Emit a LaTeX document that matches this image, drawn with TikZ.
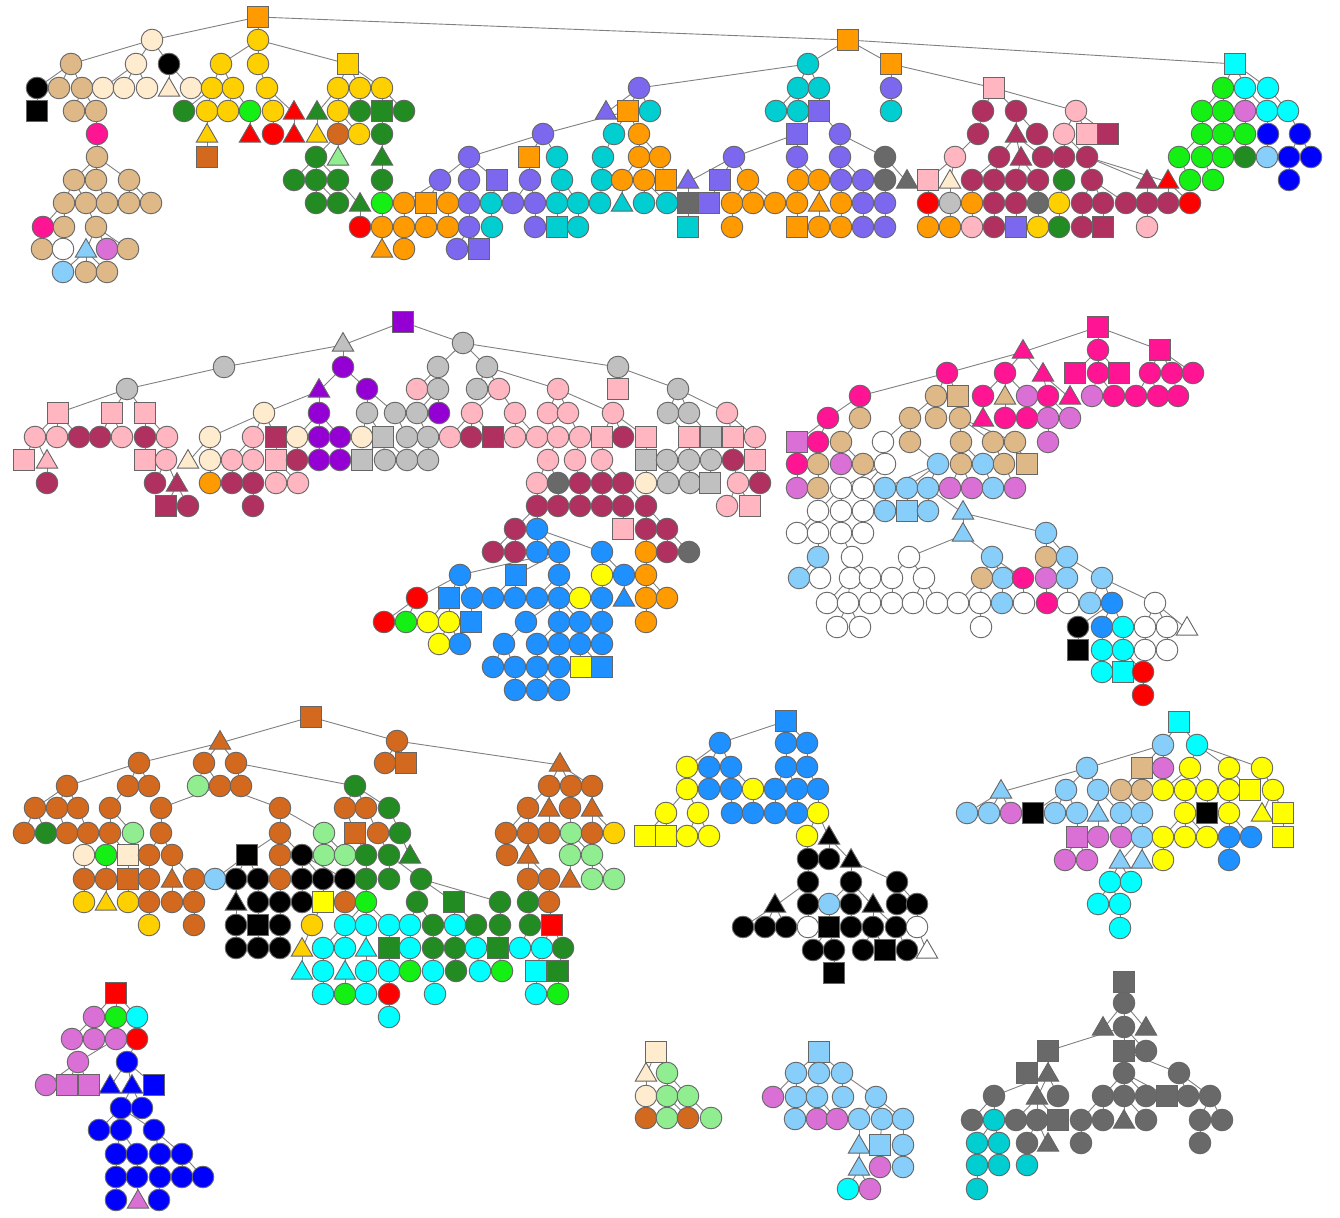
\documentclass[tikz,border=0pt]{standalone}
\usepackage{tikz}
\usetikzlibrary{shapes.geometric,backgrounds}
\definecolor{OR}{RGB}{255,155,0}
\definecolor{GO}{RGB}{255,208,0}
\definecolor{YE}{RGB}{255,255,0}
\definecolor{TA}{RGB}{222,184,135}
\definecolor{WH}{RGB}{255,235,205}
\definecolor{BK}{RGB}{0,0,0}
\definecolor{DG}{RGB}{34,139,34}
\definecolor{LI}{RGB}{20,240,20}
\definecolor{RD}{RGB}{255,0,0}
\definecolor{CH}{RGB}{210,105,30}
\definecolor{MS}{RGB}{123,104,238}
\definecolor{DT}{RGB}{0,206,209}
\definecolor{CY}{RGB}{0,255,255}
\definecolor{PK}{RGB}{255,182,193}
\definecolor{MA}{RGB}{176,48,96}
\definecolor{SI}{RGB}{192,192,192}
\definecolor{DI}{RGB}{105,105,105}
\definecolor{VI}{RGB}{148,0,211}
\definecolor{DP}{RGB}{255,20,147}
\definecolor{LS}{RGB}{135,206,250}
\definecolor{OC}{RGB}{218,112,214}
\definecolor{DO}{RGB}{30,144,255}
\definecolor{BL}{RGB}{0,0,255}
\definecolor{LG}{RGB}{144,238,144}
\definecolor{WT}{RGB}{255,255,255}
\tikzset{
  nd/.style={draw=black!60, line width=0.45pt, inner sep=0pt, outer sep=0pt},
  ci/.style={nd, circle, minimum size=10.8pt},
  sq/.style={nd, rectangle, minimum size=10.6pt},
  tr/.style={nd, regular polygon, regular polygon sides=3, minimum size=12.4pt, yshift=-1pt},
  link/.style={draw=black!50, line width=0.45pt}
}
\def\edgelist{}
\newcommand\treerow[3]{%
  \foreach \x/\s/\c/\p in {#3}{%
    \edef\tmpnode{\noexpand\node[\s,fill=\c] (n\x y#1) at (\x,#1) {};}\tmpnode
    \ifnum\p>0
      \xdef\edgelist{\unexpanded\expandafter{\edgelist}\noexpand\draw[link] (n\p y#2) -- (n\x y#1);}%
    \fi
  }}
\begin{document}
\begin{tikzpicture}[x=0.5pt, y=-0.5pt]
  \useasboundingbox (0,0) rectangle (1340,1218);

  \treerow{17}{0}{258/sq/OR/0}
  \treerow{40}{17}{152/ci/WH/258, 258/ci/GO/258, 848/sq/OR/258}
  \treerow{64}{40}{71/ci/TA/152, 136/ci/WH/152, 169/ci/BK/152, 221/ci/GO/258, 258/ci/GO/258, 348/sq/GO/258, 808/ci/DT/848, 891/sq/OR/848, 1235/sq/CY/848}
  \treerow{88}{64}{37/ci/BK/71, 59/ci/TA/71, 82/ci/TA/71, 103/ci/WH/136, 124/ci/WH/136, 147/ci/WH/136, 169/tr/WH/169, 191/ci/WH/169, 212/ci/GO/221, 233/ci/GO/221, 267/ci/GO/258, 338/ci/GO/348, 360/ci/GO/348, 382/ci/GO/348, 639/ci/MS/808, 798/ci/DT/808, 819/ci/DT/808, 891/ci/MS/891, 994/sq/PK/891, 1223/ci/LI/1235, 1245/ci/CY/1235, 1268/ci/CY/1235}
  \treerow{111}{88}{37/sq/BK/37, 74/ci/TA/82, 96/ci/TA/82, 184/ci/DG/212, 207/ci/GO/212, 228/ci/GO/233, 250/ci/LI/233, 273/ci/GO/267, 294/tr/RD/267, 317/tr/DG/338, 338/ci/GO/338, 360/ci/DG/360, 382/sq/DG/382, 404/ci/DG/382, 606/tr/MS/639, 628/sq/OR/639, 650/ci/DT/639, 776/ci/DT/798, 798/ci/DT/798, 819/sq/MS/819, 891/ci/DT/891, 983/ci/MA/994, 1016/ci/MA/994, 1076/ci/PK/994, 1202/ci/LI/1223, 1223/ci/LI/1223, 1245/ci/OC/1245, 1267/ci/CY/1245, 1288/ci/CY/1268}
  \treerow{134}{111}{97/ci/DP/96, 207/tr/GO/207, 250/tr/RD/250, 273/ci/RD/273, 294/tr/RD/294, 317/tr/GO/317, 338/ci/CH/338, 359/ci/GO/338, 382/ci/DG/382, 543/ci/MS/628, 614/ci/DT/628, 639/ci/OR/628, 797/sq/MS/819, 840/ci/MS/819, 978/ci/MA/983, 1016/tr/MA/1016, 1037/ci/MA/1016, 1064/ci/PK/1076, 1087/sq/PK/1076, 1108/sq/MA/1076, 1202/ci/LI/1202, 1223/ci/LI/1223, 1245/ci/LI/1245, 1268/ci/BL/1267, 1300/ci/BL/1288}
  \treerow{157}{134}{97/ci/TA/97, 207/sq/CH/207, 316/ci/DG/338, 338/tr/LG/338, 382/tr/DG/382, 469/ci/MS/543, 529/sq/OR/543, 557/ci/DT/543, 603/ci/DT/614, 639/ci/OR/639, 660/ci/OR/639, 734/ci/MS/797, 797/ci/MS/797, 840/ci/MS/840, 885/ci/DI/840, 955/ci/PK/978, 999/ci/MA/1016, 1021/tr/MA/1016, 1043/ci/MA/1016, 1064/ci/MA/1064, 1087/ci/MA/1064, 1179/ci/LI/1202, 1202/ci/LI/1202, 1223/ci/LI/1223, 1245/ci/DG/1245, 1267/ci/LS/1268, 1289/ci/BL/1300, 1311/ci/BL/1300}
  \treerow{180}{157}{74/ci/TA/97, 96/ci/TA/97, 129/ci/TA/97, 294/ci/DG/316, 316/ci/DG/316, 338/ci/DG/316, 382/ci/DG/382, 440/ci/MS/469, 469/ci/MS/469, 497/sq/MS/469, 530/ci/MS/529, 562/ci/DT/557, 602/ci/DT/603, 622/ci/OR/639, 644/ci/OR/639, 666/sq/OR/660, 688/tr/MS/734, 720/sq/MS/734, 748/ci/OR/734, 798/ci/OR/797, 819/ci/OR/797, 841/ci/MS/840, 863/ci/MS/840, 885/ci/DI/885, 907/tr/DI/885, 928/sq/PK/955, 950/tr/WH/955, 972/ci/MA/999, 994/ci/MA/999, 1016/ci/MA/1021, 1038/ci/MA/1021, 1064/ci/DG/1064, 1092/ci/MA/1087, 1147/tr/MA/1087, 1168/tr/RD/1087, 1190/ci/LI/1179, 1213/ci/LI/1202, 1289/ci/BL/1289}
  \treerow{203}{180}{64/ci/TA/74, 86/ci/TA/74, 107/ci/TA/96, 129/ci/TA/129, 151/ci/TA/129, 316/ci/DG/316, 338/ci/DG/316, 360/tr/DG/338, 382/ci/LI/382, 404/ci/OR/440, 426/sq/OR/440, 448/ci/OR/440, 469/ci/MS/469, 491/ci/DT/497, 513/ci/MS/530, 535/ci/MS/530, 557/ci/DT/562, 578/ci/DT/562, 600/ci/DT/602, 622/tr/DT/622, 644/ci/DT/644, 667/ci/DT/644, 688/sq/DI/688, 709/sq/MS/720, 732/ci/OR/748, 753/ci/OR/748, 775/ci/OR/748, 797/ci/OR/798, 819/tr/OR/819, 841/ci/OR/841, 863/ci/MS/863, 885/ci/MS/885, 928/ci/RD/928, 950/ci/SI/950, 972/ci/OR/972, 994/ci/MA/994, 1016/ci/MA/1016, 1038/ci/DI/1038, 1059/ci/GO/1064, 1082/ci/MA/1092, 1103/ci/MA/1092, 1126/ci/MA/1092, 1147/ci/MA/1147, 1168/ci/MA/1168, 1190/ci/RD/1168}
  \treerow{227}{203}{43/ci/DP/64, 64/ci/TA/64, 96/ci/TA/86, 360/ci/RD/360, 382/ci/OR/382, 404/ci/OR/404, 426/ci/OR/426, 448/ci/OR/448, 469/ci/MS/469, 492/ci/DT/491, 535/ci/MS/535, 557/sq/DT/557, 578/ci/DT/578, 688/sq/DT/688, 732/ci/OR/732, 797/sq/OR/797, 819/ci/OR/819, 841/ci/OR/841, 863/ci/MS/863, 885/ci/MS/885, 928/ci/OR/928, 950/ci/OR/950, 972/ci/PK/972, 994/ci/MA/994, 1016/sq/MS/1016, 1038/ci/GO/1038, 1059/ci/DG/1059, 1082/ci/MA/1082, 1103/sq/MA/1103, 1147/ci/PK/1147}
  \treerow{249}{227}{42/ci/TA/43, 63/ci/WT/64, 86/tr/LS/96, 107/ci/OC/96, 128/ci/TA/96, 382/tr/OR/382, 404/ci/OR/404, 457/ci/MS/469, 479/sq/MS/469}
  \treerow{272}{249}{63/ci/LS/86, 86/ci/TA/86, 107/ci/TA/86}

  \treerow{322}{0}{403/sq/VI/0}
  \treerow{343}{322}{343/tr/SI/403, 463/ci/SI/403}
  \treerow{367}{343}{224/ci/SI/343, 343/ci/VI/343, 438/ci/SI/463, 487/ci/SI/463, 618/ci/SI/463}
  \treerow{389}{367}{127/ci/SI/224, 319/tr/VI/343, 367/ci/VI/343, 417/ci/PK/438, 438/ci/SI/438, 477/ci/SI/487, 499/ci/PK/487, 558/ci/PK/487, 618/sq/PK/618, 678/ci/SI/618}
  \treerow{413}{389}{58/sq/PK/127, 112/sq/PK/127, 145/sq/PK/127, 264/ci/WH/319, 319/ci/VI/319, 367/ci/SI/367, 395/ci/SI/367, 417/ci/SI/438, 439/ci/VI/438, 472/ci/PK/499, 515/ci/PK/499, 548/ci/PK/558, 568/ci/PK/558, 613/ci/PK/558, 668/ci/SI/678, 689/ci/SI/678, 727/ci/PK/678}
  \treerow{437}{413}{35/ci/PK/58, 57/ci/PK/58, 79/ci/MA/58, 100/ci/MA/112, 122/ci/PK/112, 145/ci/MA/145, 167/ci/PK/145, 210/ci/WH/264, 253/ci/PK/264, 276/sq/MA/264, 297/ci/WH/319, 319/ci/VI/319, 340/ci/VI/319, 362/ci/WH/367, 383/sq/SI/367, 407/ci/SI/395, 428/ci/SI/417, 450/ci/PK/472, 471/ci/MA/472, 493/sq/MA/472, 515/ci/PK/515, 537/ci/PK/515, 558/ci/PK/548, 580/ci/PK/568, 602/sq/PK/613, 623/ci/MA/613, 646/sq/PK/613, 689/sq/PK/668, 711/sq/SI/689, 733/sq/PK/727, 755/ci/PK/727}
  \treerow{460}{437}{24/sq/PK/35, 47/tr/PK/35, 145/sq/PK/145, 166/ci/PK/167, 188/tr/WH/210, 210/ci/WH/210, 232/ci/PK/253, 253/ci/PK/253, 276/sq/PK/276, 297/ci/MA/297, 319/ci/VI/319, 340/ci/VI/340, 362/sq/SI/383, 385/ci/SI/383, 407/ci/SI/383, 428/ci/SI/428, 548/ci/PK/558, 575/ci/PK/580, 602/ci/PK/602, 646/sq/SI/646, 667/ci/SI/689, 689/ci/SI/689, 711/ci/SI/711, 733/ci/MA/733, 755/sq/PK/755}
  \treerow{483}{460}{47/ci/MA/47, 155/ci/MA/166, 177/tr/MA/166, 210/ci/OR/210, 232/ci/MA/232, 253/ci/MA/253, 276/ci/PK/276, 298/ci/PK/276, 537/ci/PK/548, 558/ci/DI/548, 580/ci/MA/575, 602/ci/MA/602, 623/ci/MA/602, 646/ci/WH/646, 668/ci/SI/667, 690/ci/SI/689, 710/sq/SI/711, 738/ci/PK/733, 760/ci/MA/755}
  \treerow{506}{483}{166/sq/MA/177, 188/ci/MA/177, 253/ci/MA/253, 537/ci/MA/537, 558/ci/MA/558, 580/ci/MA/580, 602/ci/MA/602, 623/ci/MA/623, 646/ci/MA/623, 727/ci/PK/738, 750/sq/PK/738}
  \treerow{529}{506}{515/ci/MA/537, 537/ci/DO/537, 623/sq/PK/623, 646/ci/MA/646, 667/ci/MA/646}
  \treerow{552}{529}{493/ci/MA/515, 515/ci/MA/515, 537/ci/DO/537, 559/ci/DO/537, 602/ci/DO/537, 646/ci/OR/646, 667/ci/MA/667, 689/ci/DI/667}
  \treerow{575}{552}{460/ci/DO/559, 516/sq/DO/559, 559/ci/DO/559, 602/ci/YE/602, 624/ci/DO/602, 646/ci/OR/646}
  \treerow{598}{575}{417/ci/RD/460, 449/sq/DO/460, 472/ci/DO/460, 493/ci/DO/516, 515/ci/DO/516, 537/ci/DO/559, 559/ci/DO/559, 580/ci/YE/559, 602/ci/DO/602, 624/tr/DO/624, 646/ci/OR/646, 667/ci/OR/646}
  \treerow{622}{598}{384/ci/RD/417, 406/ci/LI/417, 428/ci/YE/449, 449/ci/YE/449, 471/sq/DO/472, 526/ci/DO/559, 559/ci/DO/559, 580/ci/DO/559, 602/ci/DO/602, 646/ci/OR/646}
  \treerow{644}{622}{439/ci/YE/449, 460/ci/DO/449, 504/ci/DO/526, 537/ci/DO/559, 559/ci/DO/559, 580/ci/DO/580, 602/ci/DO/602}
  \treerow{667}{644}{493/ci/DO/504, 515/ci/DO/504, 537/ci/DO/537, 559/ci/DO/559, 581/sq/YE/580, 602/sq/DO/580}
  \treerow{690}{667}{515/ci/DO/515, 537/ci/DO/537, 559/ci/DO/537}

  \treerow{327}{0}{1098/sq/DP/0}
  \treerow{350}{327}{1023/tr/DP/1098, 1098/ci/DP/1098, 1160/sq/DP/1098}
  \treerow{373}{350}{947/ci/DP/1023, 1005/ci/DP/1023, 1043/tr/DP/1023, 1075/sq/DP/1098, 1098/ci/DP/1098, 1119/sq/DP/1098, 1150/ci/DP/1160, 1172/ci/DP/1160, 1193/ci/DP/1160}
  \treerow{396}{373}{860/ci/DP/947, 936/ci/TA/947, 958/sq/TA/947, 983/ci/DP/1005, 1005/tr/TA/1005, 1027/ci/OC/1005, 1048/ci/DP/1043, 1070/tr/DP/1043, 1092/ci/OC/1098, 1114/ci/DP/1098, 1136/ci/DP/1150, 1158/ci/DP/1150, 1178/ci/DP/1172}
  \treerow{418}{396}{828/ci/DP/860, 860/ci/TA/860, 910/ci/TA/936, 936/ci/TA/936, 960/ci/TA/958, 983/tr/DP/983, 1005/ci/DP/1005, 1027/ci/DP/1027, 1048/ci/OC/1048, 1070/ci/OC/1048}
  \treerow{442}{418}{797/sq/OC/828, 818/ci/DP/828, 841/ci/TA/860, 883/ci/WT/910, 910/ci/TA/910, 961/ci/TA/960, 993/ci/TA/960, 1015/ci/TA/960, 1048/ci/OC/1048}
  \treerow{464}{442}{797/ci/DP/797, 818/ci/TA/818, 841/ci/OC/841, 863/ci/TA/841, 885/ci/WT/883, 938/ci/LS/910, 961/ci/TA/961, 983/ci/LS/961, 1004/ci/TA/993, 1027/sq/TA/1015}
  \treerow{488}{464}{797/ci/OC/797, 818/ci/TA/818, 841/ci/WT/885, 863/ci/WT/885, 885/ci/LS/938, 907/ci/LS/938, 928/ci/LS/938, 950/ci/OC/961, 972/ci/OC/961, 993/ci/LS/983, 1015/ci/OC/1004}
  \treerow{511}{488}{818/ci/WT/841, 841/ci/WT/841, 863/ci/WT/863, 885/ci/LS/885, 907/sq/LS/907, 928/ci/LS/928, 963/tr/LS/928}
  \treerow{533}{511}{797/ci/WT/818, 818/ci/WT/818, 841/ci/WT/841, 863/ci/WT/863, 963/tr/LS/963, 1046/ci/LS/963}
  \treerow{557}{533}{818/ci/LS/818, 852/ci/WT/841, 909/ci/WT/963, 992/ci/LS/963, 1046/ci/TA/1046, 1067/ci/LS/1046}
  \treerow{578}{557}{799/ci/LS/818, 820/ci/WT/818, 850/ci/WT/852, 870/ci/WT/852, 892/ci/WT/909, 924/ci/WT/909, 982/ci/TA/992, 1003/ci/LS/992, 1023/ci/DP/992, 1046/ci/OC/1046, 1067/ci/LS/1067, 1102/ci/LS/1067}
  \treerow{603}{578}{827/ci/WT/850, 848/ci/WT/850, 870/ci/WT/870, 892/ci/WT/892, 913/ci/WT/924, 937/ci/WT/924, 958/ci/WT/982, 980/ci/WT/982, 1002/ci/LS/1003, 1024/ci/WT/1023, 1047/ci/DP/1046, 1068/ci/WT/1067, 1090/ci/LS/1102, 1112/ci/DO/1102, 1155/ci/WT/1102}
  \treerow{627}{603}{837/ci/WT/848, 860/ci/WT/848, 981/ci/WT/980, 1078/ci/BK/1112, 1102/ci/DO/1112, 1123/ci/CY/1112, 1145/ci/WT/1155, 1167/ci/WT/1155, 1187/tr/WT/1155}
  \treerow{650}{627}{1078/sq/BK/1078, 1102/ci/CY/1102, 1123/ci/CY/1123, 1145/ci/WT/1145, 1167/ci/WT/1167}
  \treerow{672}{650}{1102/ci/CY/1102, 1123/sq/CY/1123, 1143/ci/RD/1123}
  \treerow{695}{672}{1143/ci/RD/1143}

  \treerow{717}{0}{311/sq/CH/0}
  \treerow{741}{717}{220/tr/CH/311, 397/ci/CH/311}
  \treerow{763}{741}{139/ci/CH/220, 204/ci/CH/220, 236/ci/CH/220, 385/ci/CH/397, 406/sq/CH/397, 560/tr/CH/397}
  \treerow{786}{763}{67/ci/CH/139, 128/ci/CH/139, 149/ci/CH/139, 198/ci/LG/204, 220/ci/CH/204, 241/ci/CH/236, 355/ci/DG/236, 549/ci/CH/560, 571/ci/CH/560, 592/ci/CH/560}
  \treerow{808}{786}{35/ci/CH/67, 57/ci/CH/67, 78/ci/CH/67, 110/ci/CH/128, 161/ci/CH/220, 280/ci/CH/220, 345/ci/CH/355, 366/ci/CH/355, 389/ci/DG/355, 528/ci/CH/549, 549/tr/CH/549, 570/ci/CH/571, 592/tr/CH/592}
  \treerow{833}{808}{24/ci/CH/35, 46/ci/DG/35, 67/ci/CH/57, 88/ci/CH/78, 110/ci/CH/110, 133/ci/LG/110, 161/ci/CH/161, 280/ci/CH/280, 324/ci/LG/280, 355/sq/CH/345, 378/ci/CH/366, 400/ci/DG/389, 506/ci/CH/528, 528/ci/CH/528, 549/ci/CH/549, 571/ci/LG/570, 592/ci/CH/592, 614/ci/GO/592}
  \treerow{855}{833}{84/ci/WH/88, 106/ci/LI/110, 128/sq/WH/110, 149/ci/CH/161, 172/ci/CH/161, 247/sq/BK/280, 280/ci/CH/280, 302/ci/BK/280, 324/ci/LG/324, 345/ci/LG/324, 366/ci/DG/355, 389/ci/DG/378, 410/tr/DG/400, 507/ci/CH/506, 528/tr/CH/528, 570/ci/LG/571, 592/ci/LG/571}
  \treerow{879}{855}{84/ci/CH/84, 106/ci/CH/106, 128/sq/CH/128, 149/ci/CH/149, 172/tr/CH/172, 194/ci/CH/172, 215/ci/LS/247, 236/ci/BK/247, 258/ci/BK/247, 280/ci/CH/280, 302/ci/BK/302, 323/ci/BK/302, 345/ci/BK/302, 366/ci/DG/366, 389/ci/DG/389, 421/ci/DG/389, 528/ci/CH/528, 549/ci/CH/528, 570/tr/CH/570, 592/ci/LG/592, 614/ci/LG/592}
  \treerow{902}{879}{84/ci/GO/84, 106/tr/GO/106, 128/ci/GO/128, 149/ci/CH/149, 172/ci/CH/172, 194/ci/CH/194, 236/tr/BK/236, 258/ci/BK/258, 280/ci/BK/280, 302/ci/BK/302, 323/sq/YE/323, 345/ci/CH/345, 366/ci/LI/366, 417/ci/DG/421, 454/sq/DG/421, 500/ci/DG/421, 528/ci/DG/528, 549/ci/CH/549}
  \treerow{925}{902}{149/ci/GO/149, 194/ci/CH/194, 236/ci/BK/236, 258/sq/BK/258, 280/ci/BK/280, 312/ci/GO/323, 345/ci/CY/366, 366/ci/CY/366, 389/ci/CY/366, 410/ci/CY/417, 433/ci/DG/417, 455/ci/CY/454, 476/ci/DG/454, 500/ci/DG/500, 530/ci/DG/528, 552/sq/RD/549}
  \treerow{948}{925}{236/ci/BK/236, 258/ci/BK/258, 280/ci/BK/280, 302/tr/GO/312, 323/ci/CY/345, 345/ci/CY/345, 366/tr/CY/366, 389/sq/DG/389, 410/ci/CY/410, 433/ci/DG/433, 455/ci/DG/455, 476/ci/CY/476, 498/sq/DG/500, 520/ci/CY/530, 542/ci/CY/552, 563/ci/DG/552}
  \treerow{971}{948}{302/tr/CY/302, 323/ci/CY/323, 345/tr/CY/345, 366/ci/CY/366, 389/ci/CY/389, 410/ci/LI/410, 433/ci/CY/433, 456/ci/DG/455, 480/ci/CY/476, 502/ci/LI/498, 536/sq/CY/542, 558/sq/DG/563}
  \treerow{994}{971}{323/ci/CY/323, 345/ci/LI/345, 366/ci/CY/366, 389/ci/RD/389, 435/ci/CY/433, 536/ci/CY/536, 558/ci/LI/558}
  \treerow{1017}{994}{389/ci/CY/389}

  \treerow{721}{0}{786/sq/DO/0}
  \treerow{743}{721}{720/ci/DO/786, 786/ci/DO/786, 807/ci/DO/786}
  \treerow{767}{743}{687/ci/YE/720, 709/ci/DO/720, 731/ci/DO/720, 786/ci/DO/786, 807/ci/DO/807}
  \treerow{789}{767}{687/ci/YE/687, 709/ci/DO/709, 731/ci/DO/731, 753/ci/YE/731, 775/ci/DO/786, 797/ci/DO/786, 818/ci/DO/807}
  \treerow{813}{789}{666/ci/YE/687, 698/ci/YE/687, 732/ci/DO/731, 753/ci/DO/753, 775/ci/DO/775, 797/ci/DO/797, 818/ci/YE/818}
  \treerow{836}{813}{645/sq/YE/666, 666/sq/YE/666, 687/ci/YE/698, 709/ci/YE/698, 807/ci/YE/818, 829/tr/BK/818}
  \treerow{859}{836}{808/ci/BK/807, 829/ci/BK/829, 851/tr/BK/829}
  \treerow{882}{859}{808/ci/BK/808, 851/ci/BK/851, 897/ci/BK/851}
  \treerow{904}{882}{775/tr/BK/808, 808/ci/BK/808, 829/ci/LS/851, 851/ci/BK/851, 873/tr/BK/851, 897/ci/BK/897, 917/ci/BK/897}
  \treerow{927}{904}{743/ci/BK/775, 765/ci/BK/775, 786/ci/BK/775, 808/ci/WT/808, 829/sq/BK/829, 851/ci/BK/851, 873/ci/BK/873, 896/ci/BK/873, 917/ci/WT/917}
  \treerow{950}{927}{813/ci/BK/829, 834/ci/BK/829, 863/ci/BK/873, 885/sq/BK/873, 907/ci/BK/896, 927/tr/WT/917}
  \treerow{973}{950}{834/sq/BK/834}

  \treerow{722}{0}{1179/sq/CY/0}
  \treerow{745}{722}{1163/ci/LS/1179, 1197/ci/CY/1179}
  \treerow{768}{745}{1087/ci/LS/1163, 1142/sq/TA/1163, 1163/ci/OC/1163, 1190/ci/YE/1197, 1229/ci/YE/1197, 1262/ci/YE/1197}
  \treerow{790}{768}{1001/tr/LS/1087, 1066/ci/LS/1087, 1098/ci/LS/1087, 1121/ci/TA/1142, 1142/ci/TA/1142, 1163/ci/YE/1190, 1185/ci/YE/1190, 1207/ci/YE/1190, 1229/ci/YE/1229, 1250/sq/YE/1229, 1273/ci/YE/1262}
  \treerow{813}{790}{967/ci/LS/1001, 989/ci/LS/1001, 1011/ci/OC/1001, 1033/sq/BK/1066, 1055/ci/LS/1066, 1077/ci/LS/1066, 1098/tr/LS/1098, 1121/ci/LS/1098, 1142/ci/LS/1121, 1185/ci/YE/1185, 1207/sq/BK/1207, 1229/ci/YE/1229, 1262/tr/YE/1273, 1283/sq/YE/1273}
  \treerow{837}{813}{1077/sq/OC/1077, 1098/ci/OC/1098, 1121/ci/OC/1121, 1142/ci/LS/1142, 1163/ci/YE/1185, 1185/ci/YE/1185, 1207/ci/YE/1185, 1229/ci/DO/1229, 1251/ci/DO/1229, 1283/sq/YE/1283}
  \treerow{860}{837}{1065/ci/OC/1077, 1087/ci/OC/1077, 1120/tr/LS/1142, 1142/tr/LS/1142, 1163/ci/YE/1163, 1229/ci/DO/1229}
  \treerow{882}{860}{1110/ci/CY/1120, 1131/ci/CY/1120}
  \treerow{904}{882}{1098/ci/CY/1110, 1120/ci/CY/1110}
  \treerow{928}{904}{1120/ci/CY/1120}

  \treerow{993}{0}{116/sq/RD/0}
  \treerow{1017}{993}{94/ci/OC/116, 116/ci/LI/116, 137/ci/CY/116}
  \treerow{1039}{1017}{72/ci/OC/94, 94/ci/OC/94, 116/ci/OC/116, 137/ci/RD/137}
  \treerow{1062}{1039}{78/ci/OC/116, 127/ci/BL/137}
  \treerow{1085}{1062}{46/ci/OC/78, 67/sq/OC/78, 89/sq/OC/78, 110/tr/BL/127, 132/tr/BL/127, 154/sq/BL/127}
  \treerow{1108}{1085}{121/ci/BL/132, 142/ci/BL/132}
  \treerow{1130}{1108}{99/ci/BL/121, 121/ci/BL/121, 154/ci/BL/121}
  \treerow{1154}{1130}{116/ci/BL/121, 137/ci/BL/121, 160/ci/BL/154, 182/ci/BL/154}
  \treerow{1177}{1154}{116/ci/BL/116, 137/ci/BL/137, 160/ci/BL/160, 182/ci/BL/182, 203/ci/BL/182}
  \treerow{1200}{1177}{116/ci/BL/116, 138/tr/OC/137, 159/ci/BL/160}

  \treerow{1052}{0}{656/sq/WH/0}
  \treerow{1073}{1052}{646/tr/WH/656, 667/ci/LG/656}
  \treerow{1096}{1073}{646/ci/WH/646, 667/ci/LG/667, 688/ci/LG/667}
  \treerow{1118}{1096}{646/ci/CH/646, 667/ci/LG/667, 688/ci/CH/667, 711/ci/LG/688}

  \treerow{1052}{0}{819/sq/LS/0}
  \treerow{1073}{1052}{796/ci/LS/819, 819/ci/LS/819, 842/ci/LS/819}
  \treerow{1097}{1073}{773/ci/OC/796, 796/ci/LS/796, 817/ci/LS/819, 843/ci/LS/842, 876/ci/LS/842}
  \treerow{1119}{1097}{795/ci/LS/796, 817/ci/OC/817, 837/ci/OC/817, 859/ci/LS/876, 882/ci/LS/876, 903/ci/LS/876}
  \treerow{1145}{1119}{859/tr/LS/859, 880/sq/LS/882, 903/ci/LS/903}
  \treerow{1167}{1145}{859/tr/LS/859, 880/ci/OC/880, 903/ci/LS/903}
  \treerow{1189}{1167}{848/ci/CY/859, 870/ci/OC/859}

  \treerow{982}{0}{1124/sq/DI/0}
  \treerow{1003}{982}{1124/ci/DI/1124}
  \treerow{1027}{1003}{1103/tr/DI/1124, 1124/ci/DI/1124, 1146/tr/DI/1124}
  \treerow{1051}{1027}{1048/sq/DI/1124, 1124/sq/DI/1124, 1146/ci/DI/1124}
  \treerow{1073}{1051}{1027/sq/DI/1048, 1048/tr/DI/1048, 1124/ci/DI/1124, 1179/ci/DI/1124}
  \treerow{1096}{1073}{994/ci/DI/1048, 1037/tr/DI/1048, 1058/ci/DI/1048, 1103/ci/DI/1124, 1124/ci/DI/1124, 1146/ci/DI/1124, 1167/sq/DI/1124, 1188/ci/DI/1179, 1210/ci/DI/1179}
  \treerow{1120}{1096}{972/ci/DI/994, 994/ci/DT/994, 1016/ci/DI/1037, 1037/ci/DI/1037, 1058/sq/DI/1037, 1081/ci/DI/1103, 1103/ci/DI/1103, 1124/tr/DI/1124, 1146/ci/DI/1124, 1200/ci/DI/1210, 1222/ci/DI/1210}
  \treerow{1143}{1120}{977/ci/DT/994, 999/ci/DT/994, 1027/ci/DI/1037, 1048/tr/DI/1037, 1081/ci/DI/1081, 1200/ci/DI/1200}
  \treerow{1165}{1143}{977/ci/DT/977, 999/ci/DT/999, 1027/ci/DT/1027}
  \treerow{1189}{1165}{977/ci/DT/977}

  \begin{pgfonlayer}{background}
    \fill[white] (0,0) rectangle (1340,1218);
    \edgelist
  \end{pgfonlayer}
\end{tikzpicture}
\end{document}
